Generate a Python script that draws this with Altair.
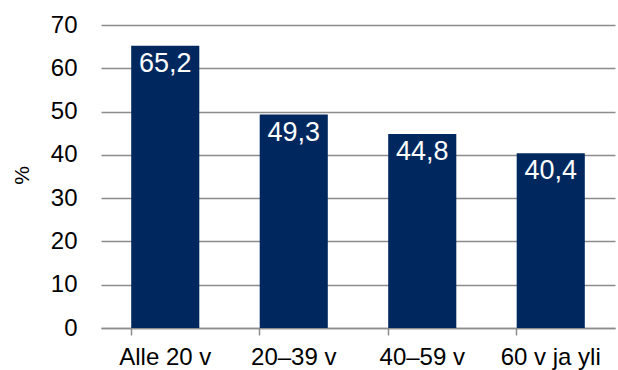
import altair as alt
import pandas as pd

categories = ["Alle 20 v", "20–39 v", "40–59 v", "60 v ja yli"]
values = [65.2, 49.3, 44.8, 40.4]
labels = ["65,2", "49,3", "44,8", "40,4"]

df = pd.DataFrame({"cat": categories, "val": values, "lab": labels})

FONT = "Liberation Sans"
x = alt.X("cat:N", sort=categories, title=None,
          scale=alt.Scale(paddingInner=0.47, paddingOuter=0.235),
          axis=alt.Axis(labelAngle=0, labelFontSize=24, labelFont=FONT, labelColor="#000000",
                        domainColor="#8c8c8c", domainWidth=1.5, tickColor="#8c8c8c", tickWidth=1.5,
                        tickSize=7, bandPosition=0, labelPadding=10, grid=False))
y = alt.Y("val:Q", title="%",
          scale=alt.Scale(domain=[0, 70], nice=False),
          axis=alt.Axis(values=list(range(0, 71, 10)), labelFontSize=24, labelFont=FONT,
                        labelColor="#000000", domain=False, ticks=False, labelPadding=24,
                        gridColor="#8c8c8c", gridWidth=1.5,
                        titleFontSize=21, titleFont=FONT, titleFontWeight="normal", titleColor="#000000",
                        titleX=-79, titleY=150, titleAlign="center", titleBaseline="middle", titleAngle=-90))

bars = alt.Chart(df).mark_bar(color="#00285F").encode(x=x, y=y)
text = alt.Chart(df).mark_text(color="white", fontSize=27, font=FONT, baseline="top", dy=5).encode(
    x=alt.X("cat:N", sort=categories), y=alt.Y("val:Q"), text="lab:N")

chart = (bars + text).properties(
    width=514, height=303,
    autosize=alt.AutoSizeParams(type="none"),
    padding={"left": 101, "top": 25, "right": 3, "bottom": 42},
).configure_view(stroke=None)

chart.save("out.html", embed_options={"renderer": "svg", "actions": False})
